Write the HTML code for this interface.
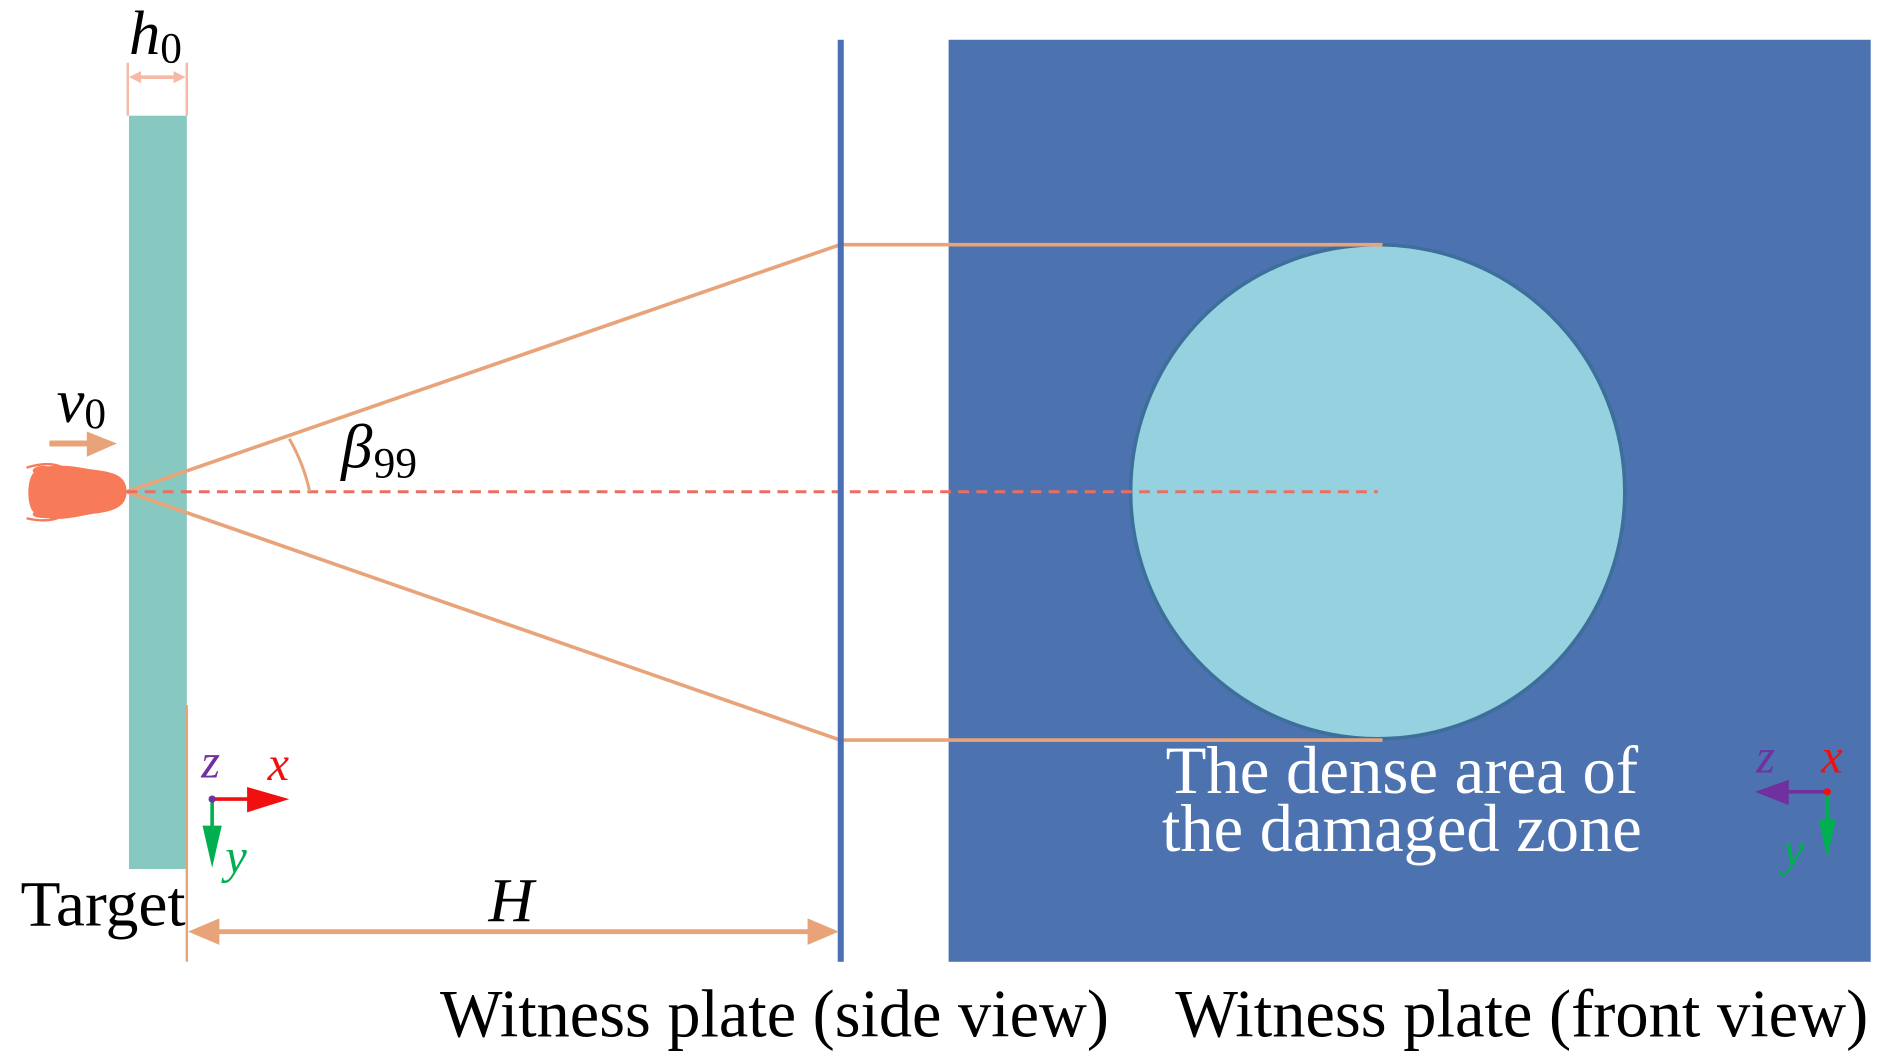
<!DOCTYPE html>
<html><head><meta charset="utf-8"><style>html,body{margin:0;padding:0;background:#fff;}svg{display:block}text{font-family:"Liberation Serif","Times New Roman",serif;}</style></head>
<body>
<svg width="1890" height="1057" viewBox="0 0 1568 877" preserveAspectRatio="none" xmlns="http://www.w3.org/2000/svg">
<rect width="1568" height="877" fill="#fff"/>
<!-- front plate -->
<rect x="787" y="33" width="765" height="765" fill="#4c73b0"/>
<circle cx="1143" cy="408" r="205" fill="#96d1df" stroke="#3d6f9c" stroke-width="3"/>
<!-- target -->
<rect x="107" y="96" width="48" height="625" fill="#87c8c0"/>
<!-- h0 -->
<line x1="106" y1="52" x2="106" y2="96" stroke="#f5b9a6" stroke-width="2"/>
<line x1="155" y1="52" x2="155" y2="96" stroke="#f5b9a6" stroke-width="2"/>
<line x1="112" y1="64" x2="150" y2="64" stroke="#f5b9a6" stroke-width="3"/>
<polygon points="107,64 117,59 117,69" fill="#f5b9a6"/>
<polygon points="154,64 144,59 144,69" fill="#f5b9a6"/>
<text x="107" y="45" font-size="52" font-style="italic">h</text>
<text x="133" y="52" font-size="36">0</text>
<!-- v0 -->
<text x="47" y="350" font-size="52" font-style="italic">v</text>
<text x="70" y="355" font-size="36">0</text>
<line x1="41" y1="368" x2="80" y2="368" stroke="#e8a478" stroke-width="5"/>
<polygon points="72,358 97,368 72,379" fill="#e8a478"/>
<!-- projectile -->
<path d="M105,408 C105,395 95,392 80,390 C65,388 55,385 40,387 C30,385 25,390 28,392 C22,398 22,420 28,425 C25,428 30,430 40,430 C55,432 65,428 80,426 C95,424 105,420 105,408 Z" fill="#f77b58"/>
<path d="M22,388 C35,384 45,384 52,388" stroke="#f77b58" stroke-width="2" fill="none"/>
<path d="M22,430 C35,433 45,432 52,428" stroke="#f77b58" stroke-width="2" fill="none"/>
<!-- cone -->
<line x1="105" y1="408" x2="697" y2="203" stroke="#e8a478" stroke-width="3"/>
<line x1="105" y1="408" x2="697" y2="614" stroke="#e8a478" stroke-width="3"/>
<line x1="697" y1="203" x2="1147" y2="203" stroke="#e8a478" stroke-width="3"/>
<line x1="697" y1="614" x2="1147" y2="614" stroke="#e8a478" stroke-width="3"/>
<line x1="105" y1="408" x2="1143" y2="408" stroke="#ea6f63" stroke-width="2.5" stroke-dasharray="9,6"/>
<path d="M240,364 A155,155 0 0 1 257,408" stroke="#e8a478" stroke-width="2.5" fill="none"/>
<text x="283" y="388" font-size="52" font-style="italic">β</text>
<text x="310" y="396" font-size="36">99</text>
<!-- side plate -->
<rect x="695" y="33" width="5" height="765" fill="#4a6fb5"/>
<!-- H dimension -->
<line x1="155" y1="585" x2="155" y2="798" stroke="#e8a478" stroke-width="2"/>
<line x1="165" y1="773" x2="685" y2="773" stroke="#e8a478" stroke-width="4"/>
<polygon points="156,773 182,762 182,784" fill="#e8a478"/>
<polygon points="696,773 670,762 670,784" fill="#e8a478"/>
<text x="424" y="764" font-size="52" font-style="italic" text-anchor="middle">H</text>
<text x="17" y="768" font-size="54" textLength="137" lengthAdjust="spacingAndGlyphs">Target</text>
<!-- left axes -->
<line x1="176" y1="663" x2="215" y2="663" stroke="#f01010" stroke-width="3"/>
<polygon points="205,653 240,663 205,674" fill="#f01010"/>
<line x1="176" y1="663" x2="176" y2="695" stroke="#00b050" stroke-width="3"/>
<polygon points="168,685 184,685 176,720" fill="#00b050"/>
<circle cx="176" cy="663" r="3" fill="#7030a0"/>
<text x="167" y="645" font-size="40" font-style="italic" fill="#7030a0">z</text>
<text x="222" y="647" font-size="40" font-style="italic" fill="#f01010">x</text>
<text x="187" y="724" font-size="40" font-style="italic" fill="#00b050">y</text>
<!-- right axes -->
<line x1="1516" y1="657" x2="1478" y2="657" stroke="#7030a0" stroke-width="3"/>
<polygon points="1456,657 1484,647 1484,668" fill="#7030a0"/>
<line x1="1516" y1="657" x2="1516" y2="690" stroke="#00b050" stroke-width="3"/>
<polygon points="1509,680 1523,680 1516,712" fill="#00b050"/>
<circle cx="1516" cy="657" r="3" fill="#f01010"/>
<text x="1457" y="641" font-size="40" font-style="italic" fill="#7030a0">z</text>
<text x="1511" y="641" font-size="40" font-style="italic" fill="#f01010">x</text>
<text x="1479" y="718" font-size="40" font-style="italic" fill="#00b050">y</text>
<!-- texts -->
<text x="1163" y="658" font-size="56" fill="#fff" text-anchor="middle" textLength="392" lengthAdjust="spacingAndGlyphs">The dense area of</text>
<text x="1163" y="706" font-size="56" fill="#fff" text-anchor="middle" textLength="398" lengthAdjust="spacingAndGlyphs">the damaged zone</text>
<text x="365" y="860" font-size="56" textLength="555" lengthAdjust="spacingAndGlyphs">Witness plate (side view)</text>
<text x="975" y="860" font-size="56" textLength="575" lengthAdjust="spacingAndGlyphs">Witness plate (front view)</text>
</svg>
</body></html>
